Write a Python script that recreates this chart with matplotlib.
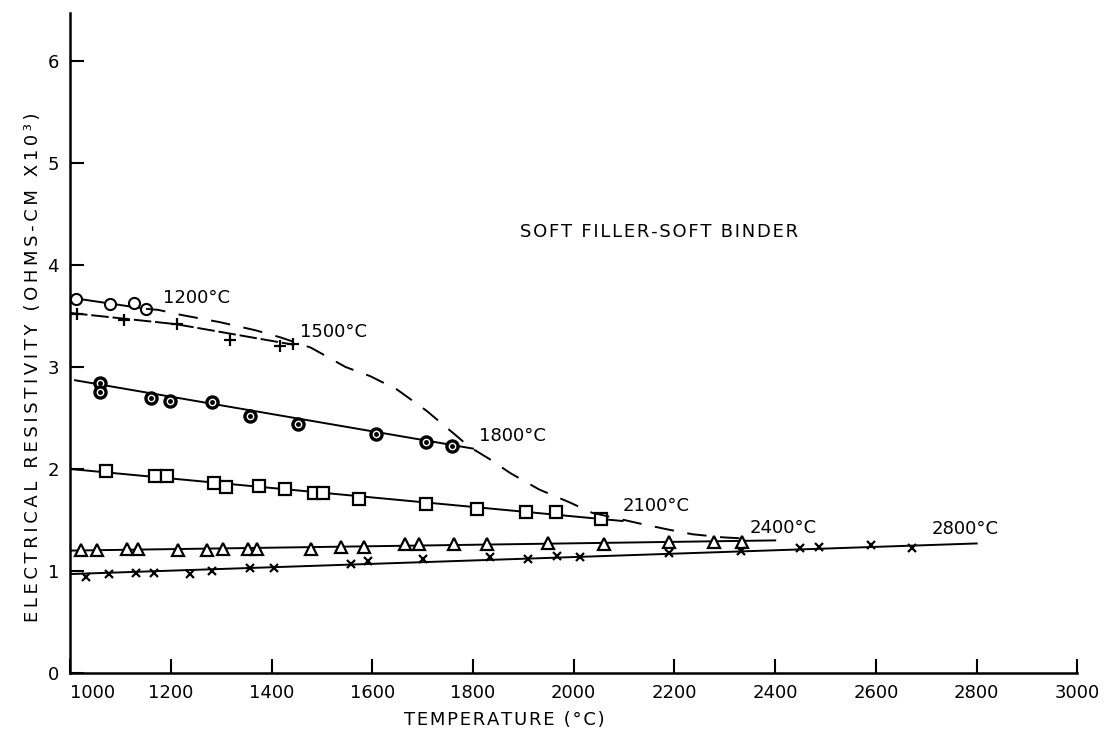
import matplotlib
matplotlib.use("Agg")
import matplotlib.pyplot as plt

# --- data (temperature in °C, resistivity in ohm-cm x 10^3) ---
t1200 = [1011, 1079, 1127, 1151]
r1200 = [3.67, 3.62, 3.63, 3.57]
line1200_t = [1000, 1151]
line1200_r = [3.68, 3.57]

t1500 = [1013, 1107, 1212, 1318, 1416, 1442]
r1500 = [3.52, 3.46, 3.42, 3.26, 3.21, 3.23]
line1500_t = [1000, 1210, 1442]
line1500_r = [3.53, 3.42, 3.22]

t1800 = [1059, 1059, 1161, 1198, 1281, 1358, 1452, 1608, 1706, 1759]
r1800 = [2.84, 2.75, 2.70, 2.67, 2.66, 2.52, 2.44, 2.34, 2.26, 2.23]
line1800_t = [1010, 1800]
line1800_r = [2.87, 2.20]

t2100 = [1072, 1168, 1192, 1285, 1310, 1375, 1427, 1484, 1503, 1574, 1706,
         1807, 1905, 1965, 2054]
r2100 = [1.98, 1.93, 1.93, 1.86, 1.82, 1.83, 1.80, 1.76, 1.76, 1.71, 1.66,
         1.61, 1.58, 1.58, 1.51]
line2100_t = [1000, 2097]
line2100_r = [2.00, 1.49]

t2400 = [1021, 1054, 1114, 1135, 1214, 1271, 1303, 1353, 1371, 1479, 1537,
         1583, 1666, 1693, 1762, 1828, 1948, 2061, 2189, 2278, 2335]
r2400 = [1.21, 1.21, 1.22, 1.22, 1.21, 1.21, 1.22, 1.22, 1.22, 1.22, 1.24,
         1.24, 1.26, 1.26, 1.26, 1.26, 1.27, 1.26, 1.28, 1.28, 1.28]
line2400_t = [1000, 2400]
line2400_r = [1.20, 1.30]

t2800 = [1032, 1077, 1130, 1167, 1238, 1281, 1358, 1404, 1557, 1592, 1700,
         1833, 1909, 1966, 2012, 2190, 2333, 2449, 2487, 2591, 2671]
r2800 = [0.94, 0.97, 0.98, 0.98, 0.975, 1.00, 1.03, 1.03, 1.07, 1.10, 1.12,
         1.14, 1.12, 1.15, 1.14, 1.18, 1.20, 1.23, 1.24, 1.25, 1.23]
line2800_t = [1000, 2800]
line2800_r = [0.97, 1.27]

# dashed envelope joining the ends of the isotherms
env_t = [1151, 1175, 1221, 1297, 1368, 1418, 1478, 1547, 1596, 1649, 1708,
         1766, 1792, 1832, 1874, 1931, 1993, 2037, 2091, 2136, 2184, 2236,
         2296, 2333]
env_r = [3.57, 3.56, 3.51, 3.44, 3.36, 3.29, 3.19, 3.00, 2.91, 2.78, 2.57,
         2.33, 2.22, 2.10, 1.96, 1.80, 1.67, 1.57, 1.51, 1.46, 1.41, 1.36,
         1.33, 1.32]

labels = ["1200°C", "1500°C", "1800°C", "2100°C", "2400°C", "2800°C"]
label_t = [1185, 1457, 1812, 2097, 2349, 2711]
label_r = [3.68, 3.34, 2.32, 1.64, 1.42, 1.41]

xticks = list(range(1000, 3001, 200))
yticks = [0, 1, 2, 3, 4, 5, 6]


def spaced(s, sep):
    # old lettering-guide text is widely spaced
    return sep.join(s)


fig = plt.figure(figsize=(11.15, 7.32), dpi=100)
ax = fig.add_axes([0.0628, 0.0806, 0.9035, 0.9016])

lw = 1.4
mk = dict(color="black", linestyle="none")

ax.plot(line1200_t, line1200_r, color="black", lw=lw)
ax.plot(t1200, r1200, marker="o", ms=8, mfc="white", mec="black", mew=1.5, **mk)

ax.plot(line1500_t, line1500_r, color="black", lw=lw, linestyle=(0, (9, 2)))
ax.plot(t1500, r1500, marker="+", ms=9, mew=1.6, **mk)

ax.plot(line1800_t, line1800_r, color="black", lw=lw)
ax.plot(t1800, r1800, marker="o", ms=8, mfc="white", mec="black", mew=2.4, **mk)
ax.plot(t1800, r1800, marker="o", ms=2.5, mfc="black", mec="black", **mk)

ax.plot(line2100_t, line2100_r, color="black", lw=lw)
ax.plot(t2100, r2100, marker="s", ms=8, mfc="white", mec="black", mew=1.6, **mk)

ax.plot(line2400_t, line2400_r, color="black", lw=lw)
ax.plot(t2400, r2400, marker="^", ms=9, mfc="white", mec="black", mew=1.6, **mk)

ax.plot(line2800_t, line2800_r, color="black", lw=lw)
ax.plot(t2800, r2800, marker="x", ms=6, mew=1.6, **mk)

ax.plot(env_t, env_r, color="black", lw=lw, linestyle=(0, (10, 7)))

for txt, tx, ty in zip(labels, label_t, label_r):
    ax.text(tx, ty, txt, fontsize=13, ha="left", va="center")

ax.text(1893, 4.32, spaced("SOFT FILLER-SOFT BINDER", "\u200a"),
        fontsize=13, ha="left", va="center")

ax.set_xlim(1000, 3000)
ax.set_ylim(0, 6.47)
ax.set_xticks(xticks)
ax.set_yticks(yticks)
ax.set_xticklabels([str(v) for v in xticks])
ax.get_xticklabels()[0].set_ha("left")

for s in ["top", "right"]:
    ax.spines[s].set_visible(False)
for s in ["left", "bottom"]:
    ax.spines[s].set_linewidth(1.8)

ax.tick_params(direction="in", length=10, width=1.5, labelsize=13, pad=8)

ax.text(0.431, -0.071, spaced("TEMPERATURE (°C)", "\u200a"),
        transform=ax.transAxes, fontsize=13, ha="center", va="center")
ax.text(-0.037, 0.464, spaced("ELECTRICAL RESISTIVITY (OHMS-CM X10³)", "\u2009"),
        transform=ax.transAxes, fontsize=13, rotation=90,
        ha="center", va="center")

fig.savefig("out.png", dpi=100)
